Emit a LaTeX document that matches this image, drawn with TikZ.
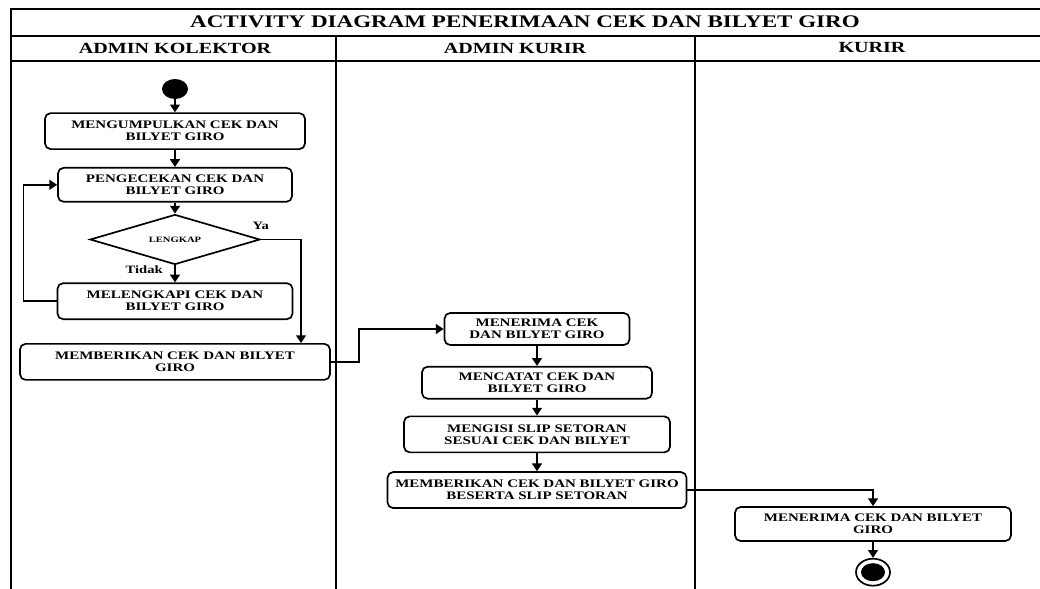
\documentclass[tikz,border=0pt]{standalone}
\usepackage{fontspec}
\setmainfont[FakeStretch=1.3]{Liberation Serif}
\usetikzlibrary{arrows.meta,positioning,shapes.geometric}

\begin{document}
\begin{tikzpicture}[x=0.25mm, y=-0.25mm,
  act/.style={draw, rounded corners=4pt, minimum height=9mm, align=center,
              font=\fontsize{8.2}{8.6}\selectfont\bfseries, line width=1.2pt, inner sep=1pt},
  dec/.style={draw, diamond, aspect=4, minimum width=42.5mm, minimum height=12.5mm, inner sep=0pt,
              font=\fontsize{5.8}{6}\selectfont\bfseries, line width=1.2pt},
  lbl/.style={inner sep=0pt, font=\fontsize{8}{9}\selectfont\bfseries},
  lane/.style={line width=1.5pt},
  flow/.style={->, line width=1.1pt},
  >={Triangle[width=7pt,length=5.5pt]}, node distance=4.5mm]
  \useasboundingbox (0,0) rectangle (1040,589);
  % swimlanes
  \draw[lane] (1040,9) -- (11,9) -- (11,589);
  \draw[lane] (11,36) -- (1040,36);
  \draw[lane] (11,61) -- (1040,61);
  \draw[lane] (336,36) -- (336,589);
  \draw[lane] (695,36) -- (695,589);
  \node[font=\fontsize{12.6}{14}\selectfont\bfseries] (title) at (525,22) {ACTIVITY DIAGRAM PENERIMAAN CEK DAN BILYET GIRO};
  \node[font=\fontsize{11}{12}\selectfont\bfseries] (h1) at (175,48) {ADMIN KOLEKTOR};
  \node[font=\fontsize{11}{12}\selectfont\bfseries] (h2) at (515,48) {ADMIN KURIR};
  \node[font=\fontsize{11}{12}\selectfont\bfseries] (h3) at (872,48) {KURIR};

  % admin kolektor
  \node[ellipse, fill=black, minimum width=6.5mm, minimum height=5mm, inner sep=0pt] (start) at (175,89) {};
  \node[act, minimum width=65mm, below=3.25mm of start] (b1) {MENGUMPULKAN CEK DAN\\ BILYET GIRO};
  \node[act, minimum width=58.5mm, minimum height=8.5mm, below=4.25mm of b1] (b2) {PENGECEKAN CEK DAN\\ BILYET GIRO};
  \node[dec, below=2.75mm of b2] (dia) {LENGKAP};
  \node[act, minimum width=58.75mm, below=4.25mm of dia] (b3) {MELENGKAPI CEK DAN\\ BILYET GIRO};
  \node[act, minimum width=77.5mm, below=5.75mm of b3] (b4) {MEMBERIKAN CEK DAN BILYET\\ GIRO};
  \node[lbl, above=2.5mm of dia.east] (ya) {Ya};
  \node[lbl, below left=0mm and 3mm of dia.south] (tidak) {Tidak};

  % admin kurir
  \node[act, minimum width=46.25mm, minimum height=8mm] (b5) at (537,329) {MENERIMA CEK\\ DAN BILYET GIRO};
  \node[act, minimum width=57.5mm, minimum height=8mm, below=5mm of b5] (b6) {MENCATAT CEK DAN\\ BILYET GIRO};
  \node[act, minimum width=66.5mm, below=4mm of b6] (b7) {MENGISI SLIP SETORAN\\ SESUAI CEK DAN BILYET};
  \node[act, minimum width=74.75mm, below=4.5mm of b7] (b8) {MEMBERIKAN CEK DAN BILYET GIRO\\ BESERTA SLIP SETORAN};

  % kurir
  \node[act, minimum width=69mm, minimum height=8.5mm] (b9) at (873,524) {MENERIMA CEK DAN BILYET\\ GIRO};
  \node[ellipse, draw, line width=1.2pt, minimum width=8.5mm, minimum height=6.75mm, below=4mm of b9] (end) {};
  \node[ellipse, fill=black, minimum width=6mm, minimum height=4.5mm, inner sep=0pt] (endin) at (end) {};

  \draw[flow] (start) -- (b1);
  \draw[flow] (b1) -- (b2);
  \draw[flow] (b2) -- (dia);
  \draw[flow] (dia) -- (b3);
  \draw[flow] (b3.west) -- ++(-8.25mm,0) |- (b2.west);
  \draw[flow] (dia.east) -| ([xshift=31.5mm]b4.north);
  \draw[flow] (b4.east) -- ++(7mm,0) |- (b5.west);
  \draw[flow] (b5) -- (b6);
  \draw[flow] (b6) -- (b7);
  \draw[flow] (b7) -- (b8);
  \draw[flow] (b8.east) -| (b9.north);
  \draw[flow] (b9) -- (end);
\end{tikzpicture}
\end{document}
